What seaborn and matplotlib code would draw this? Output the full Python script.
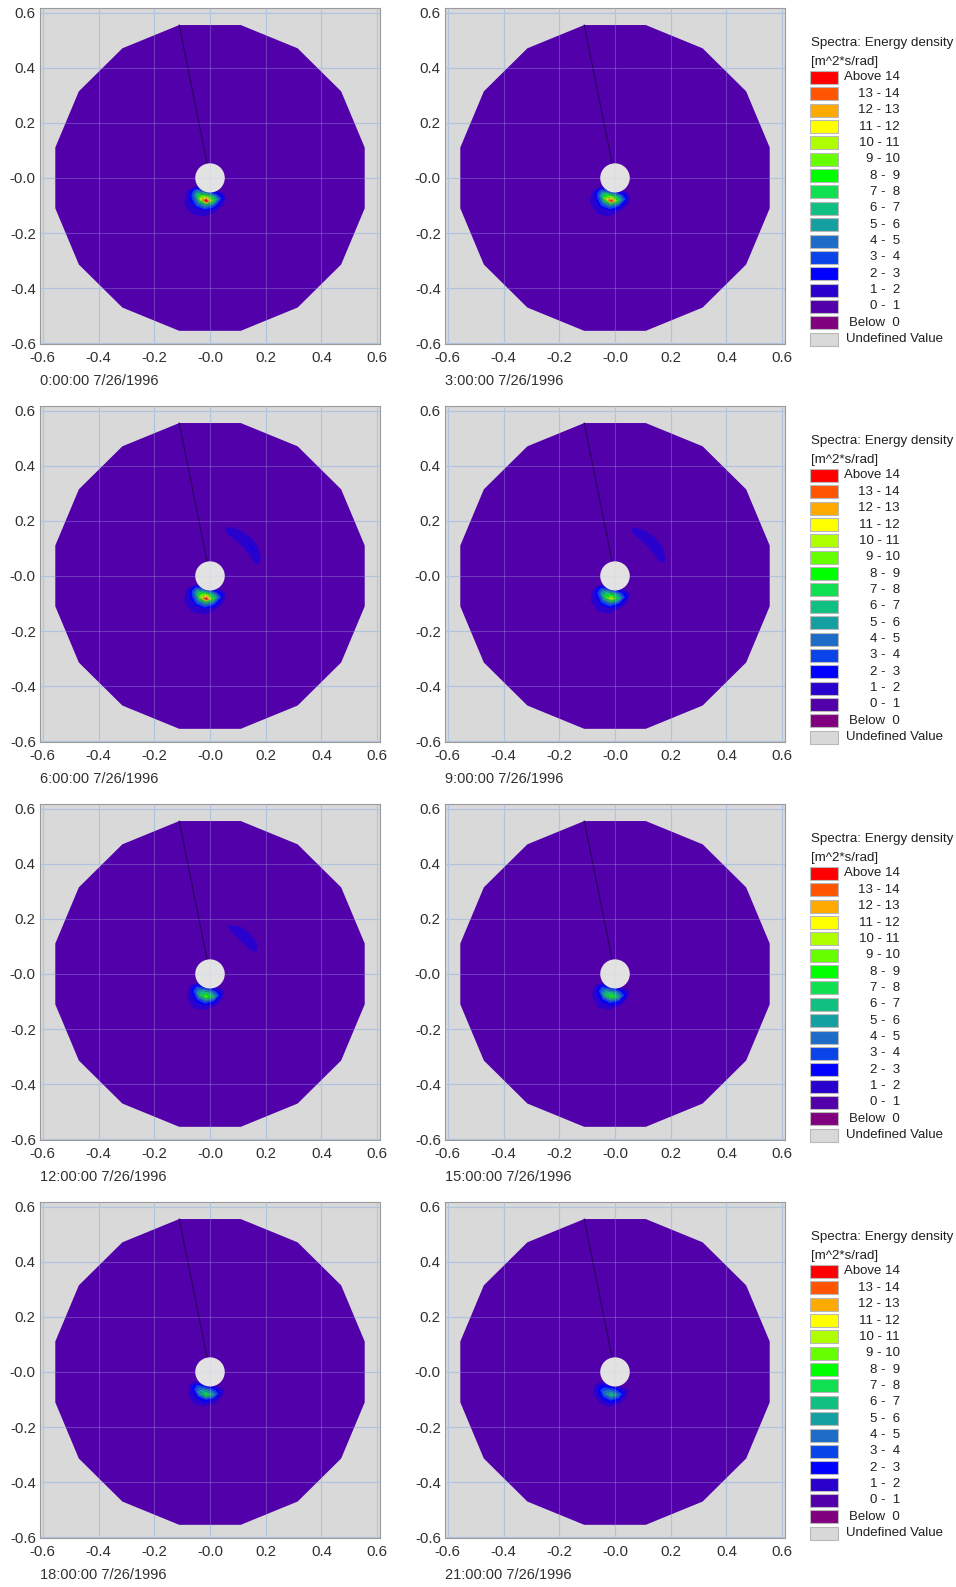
import numpy as np
import matplotlib
matplotlib.use("Agg")
import matplotlib.pyplot as plt
from matplotlib.patches import Rectangle, Circle
import seaborn as sns

# ---------------- data ----------------
TIMES = ["0:00:00 7/26/1996", "3:00:00 7/26/1996", "6:00:00 7/26/1996", "9:00:00 7/26/1996",
         "12:00:00 7/26/1996", "15:00:00 7/26/1996", "18:00:00 7/26/1996", "21:00:00 7/26/1996"]

# spectral directions (deg) of the polar grid and frequency range
DIRECTIONS = [11.25, 33.75, 56.25, 78.75, 101.25, 123.75, 146.25, 168.75,
              191.25, 213.75, 236.25, 258.75, 281.25, 303.75, 326.25, 348.75]
FREQ_MAX = 0.566
FREQ_MIN = 0.053
SEAM_DIR = 101.25

# main (wind-sea) peak: energy density on a local polar grid
RAD_MAIN = [0.05, 0.068, 0.085, 0.102, 0.122, 0.145]
ANG_MAIN = [-150, -133, -116, -99, -82, -65, -48]

E_MAIN = {
    0: [[0.5, 2.0, 3.0, 3.0, 2.2, 1.0, 0.5],
        [1.2, 5.5, 8.5, 10.0, 7.0, 3.0, 0.8],
        [1.2, 4.6, 10.5, 15.0, 9.0, 3.6, 0.8],
        [0.8, 2.4, 4.8, 5.8, 3.6, 1.3, 0.5],
        [0.5, 1.3, 1.9, 1.8, 1.1, 0.6, 0.5],
        [0.5, 0.7, 1.1, 0.9, 0.6, 0.5, 0.5]],
    1: [[0.5, 1.8, 2.8, 2.8, 2.0, 0.9, 0.5],
        [1.0, 5.0, 8.0, 9.5, 6.5, 2.8, 0.7],
        [1.1, 4.2, 10.0, 14.4, 8.5, 3.3, 0.7],
        [0.7, 2.2, 4.4, 5.4, 3.3, 1.2, 0.5],
        [0.5, 1.2, 1.8, 1.7, 1.0, 0.6, 0.5],
        [0.5, 0.6, 1.0, 0.9, 0.6, 0.5, 0.5]],
    2: [[0.5, 1.9, 2.9, 2.9, 2.1, 1.0, 0.5],
        [1.1, 5.2, 8.2, 9.8, 6.8, 2.9, 0.8],
        [1.2, 4.4, 10.2, 14.6, 8.8, 3.5, 0.8],
        [0.8, 2.3, 4.6, 5.6, 3.5, 1.3, 0.5],
        [0.5, 1.3, 1.8, 1.8, 1.1, 0.6, 0.5],
        [0.5, 0.7, 1.0, 0.9, 0.6, 0.5, 0.5]],
    3: [[0.5, 1.6, 2.4, 2.4, 1.8, 0.8, 0.5],
        [0.9, 4.4, 6.8, 8.0, 5.6, 2.4, 0.6],
        [1.0, 3.7, 8.4, 11.5, 7.2, 3.0, 0.7],
        [0.6, 1.9, 3.8, 4.6, 2.9, 1.1, 0.5],
        [0.5, 1.1, 1.6, 1.5, 0.9, 0.5, 0.5],
        [0.5, 0.6, 0.9, 0.8, 0.5, 0.5, 0.5]],
    4: [[0.5, 1.4, 2.1, 2.1, 1.6, 0.7, 0.5],
        [0.8, 3.8, 5.8, 6.8, 5.0, 2.0, 0.6],
        [0.9, 3.2, 7.2, 9.8, 6.8, 2.6, 0.6],
        [0.6, 1.6, 3.2, 4.0, 2.6, 1.0, 0.5],
        [0.5, 1.0, 1.4, 1.3, 0.8, 0.5, 0.5],
        [0.5, 0.5, 0.8, 0.7, 0.5, 0.5, 0.5]],
    5: [[0.5, 1.3, 2.0, 2.0, 1.5, 0.7, 0.5],
        [0.8, 3.6, 5.5, 6.5, 4.8, 1.9, 0.6],
        [0.9, 3.0, 6.9, 9.3, 6.5, 2.5, 0.6],
        [0.6, 1.5, 3.0, 3.8, 2.5, 0.9, 0.5],
        [0.5, 0.9, 1.3, 1.2, 0.8, 0.5, 0.5],
        [0.5, 0.5, 0.8, 0.7, 0.5, 0.5, 0.5]],
    6: [[0.5, 1.2, 1.6, 1.6, 1.2, 0.6, 0.5],
        [0.7, 3.4, 4.8, 5.4, 3.9, 1.6, 0.5],
        [0.8, 2.8, 6.0, 8.6, 5.8, 2.2, 0.6],
        [0.5, 1.3, 2.4, 3.0, 2.0, 0.8, 0.5],
        [0.5, 0.8, 1.2, 1.1, 0.7, 0.5, 0.5],
        [0.5, 0.5, 0.6, 0.6, 0.5, 0.5, 0.5]],
    7: [[0.5, 0.9, 1.2, 1.2, 0.9, 0.5, 0.5],
        [0.6, 2.4, 3.6, 4.2, 3.0, 1.2, 0.5],
        [0.7, 2.4, 5.0, 7.2, 4.8, 1.8, 0.5],
        [0.5, 1.3, 2.6, 3.4, 2.2, 0.8, 0.5],
        [0.5, 0.7, 1.1, 1.2, 0.7, 0.5, 0.5],
        [0.5, 0.5, 0.6, 0.6, 0.5, 0.5, 0.5]],
}

# secondary (swell) peak, present at 6:00, 9:00, 12:00
RAD_SWELL = [0.15, 0.168, 0.184, 0.20, 0.215]
ANG_SWELL = [8, 20, 32, 44, 56, 68, 80]
E_SWELL = {
    2: [[0.5, 0.5, 0.5, 0.5, 0.5, 0.5, 0.5],
        [0.5, 1.2, 1.6, 1.7, 1.5, 1.1, 0.5],
        [0.5, 1.5, 2.2, 2.0, 1.7, 1.3, 0.5],
        [0.5, 0.8, 1.1, 1.1, 0.9, 0.7, 0.5],
        [0.5, 0.5, 0.5, 0.5, 0.5, 0.5, 0.5]],
    3: [[0.5, 0.5, 0.5, 0.5, 0.5, 0.5, 0.5],
        [0.5, 1.1, 1.5, 1.6, 1.4, 1.0, 0.5],
        [0.5, 1.3, 2.0, 1.9, 1.6, 1.2, 0.5],
        [0.5, 0.7, 1.0, 1.0, 0.9, 0.6, 0.5],
        [0.5, 0.5, 0.5, 0.5, 0.5, 0.5, 0.5]],
    4: [[0.5, 0.5, 0.5, 0.5, 0.5, 0.5, 0.5],
        [0.5, 0.5, 1.0, 1.2, 1.1, 0.7, 0.5],
        [0.5, 0.6, 1.5, 1.8, 1.6, 1.1, 0.5],
        [0.5, 0.5, 1.1, 1.3, 1.2, 0.8, 0.5],
        [0.5, 0.5, 0.5, 0.5, 0.5, 0.5, 0.5]],
}

# legend classes (top to bottom)
CLASS_LABELS = ["Above 14", "13 - 14", "12 - 13", "11 - 12", "10 - 11", "9 - 10",
                "8 -  9", "7 -  8", "6 -  7", "5 -  6", "4 -  5", "3 -  4",
                "2 -  3", "1 -  2", "0 -  1", "Below  0", "Undefined Value"]
CLASS_COLORS = ["#ff0000", "#ff5500", "#ffaa00", "#ffff00", "#b0ff00", "#66ff00",
                "#00ff00", "#10e050", "#10c080", "#14a0a0", "#1c6cc8", "#0844e8",
                "#0000ff", "#2a00cc", "#5200aa", "#800080", "#d9d9d9"]
LEVELS = list(range(1, 15)) + [1000]

TICKS = [-0.6, -0.4, -0.2, 0.0, 0.2, 0.4, 0.6]
TICK_LABELS = ["-0.6", "-0.4", "-0.2", "-0.0", "0.2", "0.4", "0.6"]

# ---------------- style ----------------
sns.set_style("white")
plt.rcParams["font.family"] = ["Liberation Sans", "DejaVu Sans"]

W, H = 956, 1587
fig = plt.figure(figsize=(W / 100, H / 100), dpi=100)

BG = "#d9d9d9"
GRID = "#a9bfd9"
FILL01 = CLASS_COLORS[14]
blob_palette = sns.color_palette(CLASS_COLORS[:14][::-1])  # 1-2 ... above 14

AX_W, AX_H = 340, 336
COL_X = [40, 445]
ROW_TOP0, ROW_PITCH = 8, 398

overlay = fig.add_axes([0, 0, 1, 1], zorder=10)
overlay.set_xlim(0, W)
overlay.set_ylim(H, 0)
overlay.axis("off")

dirs = np.radians(DIRECTIONS)
for i, label in enumerate(TIMES):
    row, col = divmod(i, 2)
    left = COL_X[col]
    top = ROW_TOP0 + ROW_PITCH * row
    ax = fig.add_axes([left / W, 1 - (top + AX_H) / H, AX_W / W, AX_H / H])
    ax.set_facecolor(BG)
    ax.set_xlim(-0.61, 0.61)
    ax.set_ylim(-0.603, 0.617)

    # grid below
    for t in TICKS:
        ax.axvline(t, color=GRID, lw=0.8, zorder=0.5)
        ax.axhline(t, color=GRID, lw=0.8, zorder=0.5)

    # background spectral domain (0-1 class)
    ax.fill(FREQ_MAX * np.cos(dirs), FREQ_MAX * np.sin(dirs), color=FILL01, lw=0, zorder=1)

    # main peak
    T, R = np.meshgrid(np.radians(ANG_MAIN), RAD_MAIN)
    ax.contourf(R * np.cos(T), R * np.sin(T), np.array(E_MAIN[i]),
                levels=LEVELS, colors=blob_palette, zorder=2, antialiased=True)
    if i in E_SWELL:
        T2, R2 = np.meshgrid(np.radians(ANG_SWELL), RAD_SWELL)
        ax.contourf(R2 * np.cos(T2), R2 * np.sin(T2), np.array(E_SWELL[i]),
                    levels=LEVELS, colors=blob_palette, zorder=2, antialiased=True)

    # direction seam
    s = np.radians(SEAM_DIR)
    ax.plot([FREQ_MIN * np.cos(s), FREQ_MAX * np.cos(s)],
            [FREQ_MIN * np.sin(s), FREQ_MAX * np.sin(s)], color="#2e0066", lw=0.9, zorder=3)

    # undefined inner hole
    ax.add_patch(Circle((0, 0), FREQ_MIN, facecolor="#e2e2e2", edgecolor="none", zorder=4))

    # faint grid on top
    for t in TICKS:
        ax.axvline(t, color="#c8d6ec", lw=0.8, alpha=0.25, zorder=5)
        ax.axhline(t, color="#c8d6ec", lw=0.8, alpha=0.25, zorder=5)

    ax.set_xticks(TICKS)
    ax.set_xticklabels(TICK_LABELS)
    ax.set_yticks(TICKS)
    ax.set_yticklabels(TICK_LABELS)
    ax.set_xticks(np.arange(-0.6, 0.61, 0.02), minor=True)
    ax.set_yticks(np.arange(-0.6, 0.61, 0.02), minor=True)
    ax.tick_params(which="major", direction="in", length=3, color="#8a8a8a",
                   labelsize=10.8, labelcolor="#303030")
    ax.tick_params(which="minor", direction="in", length=2, color="#9a9a9a", width=0.6,
                   top=False, right=False)
    ax.tick_params(axis="x", pad=5)
    ax.tick_params(axis="y", pad=3)
    for sp in ax.spines.values():
        sp.set_color("#9a9a9a")
        sp.set_linewidth(0.8)
    ax.grid(False)

    overlay.text(left, top + AX_H + 37, label, fontsize=10.5, color="#303030",
                 ha="left", va="center")

# legends, one per row
for row in range(4):
    base = ROW_PITCH * row
    overlay.text(811, 43 + base, "Spectra: Energy density", fontsize=9.6,
                 color="#202020", ha="left", va="center")
    overlay.text(811, 62 + base, "[m^2*s/rad]", fontsize=9.6,
                 color="#202020", ha="left", va="center")
    for j, (lab, colr) in enumerate(zip(CLASS_LABELS, CLASS_COLORS)):
        y0 = 71 + 16.35 * j + base
        overlay.add_patch(Rectangle((810, y0), 28, 13, facecolor=colr,
                                    edgecolor="#b8b8b8", lw=0.8))
        if lab == "Undefined Value":
            overlay.text(846, y0 + 6.5, lab, fontsize=9.5, color="#202020",
                         ha="left", va="center")
        else:
            overlay.text(900, y0 + 6.5, lab, fontsize=9.5, color="#202020",
                         ha="right", va="center")

fig.savefig("out.png", dpi=100)
